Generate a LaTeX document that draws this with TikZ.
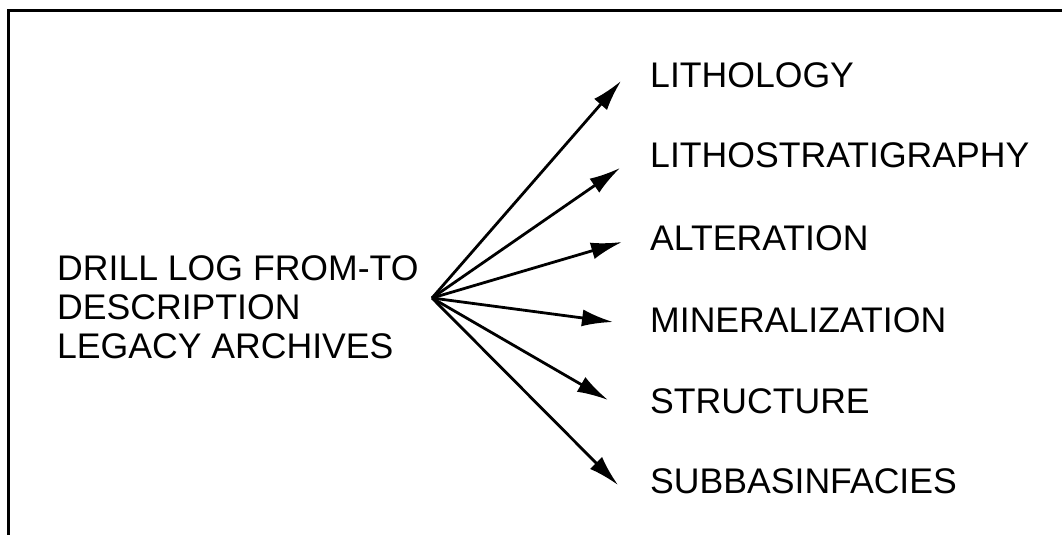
\documentclass[tikz,border=0pt]{standalone}
\usepackage{fontspec}
\setmainfont{Liberation Sans}
\usetikzlibrary{arrows.meta}

\tikzset{
  logtext/.style = {inner sep=0pt, font=\fontsize{35.6}{39}\selectfont},
  source/.style = {logtext, anchor=north west, align=left},% bloc de gauche
  attr/.style = {logtext, anchor=base west},% attributs a droite
  fan/.style = {line width=2.8pt, -{Latex[length=31pt,width=17pt]}},
  frame/.style = {line width=3pt}
}

\begin{document}
\begin{tikzpicture}[x=1pt, y=-1pt]
  \useasboundingbox (0,0) rectangle (1062,535);
  \draw [frame] (8,535) -- (8,11) -- (1062,11);

  \node [source] (log) at (57,255) {DRILL LOG FROM-TO\\DESCRIPTION\\LEGACY ARCHIVES};
  \coordinate (hub) at (432,298);

  \node [attr] (litho) at (650,87) {LITHOLOGY};
  \node [attr] (strat) at (650,167) {LITHOSTRATIGRAPHY};
  \node [attr] (alter) at (650,250) {ALTERATION};
  \node [attr] (miner) at (650,332) {MINERALIZATION};
  \node [attr] (struct) at (650,413) {STRUCTURE};
  \node [attr] (facies) at (650,493) {SUBBASINFACIES};

  % pointes des fleches
  \coordinate (t-litho) at (621,81);
  \coordinate (t-strat) at (620,168);
  \coordinate (t-alter) at (622,242);
  \coordinate (t-miner) at (613,322);
  \coordinate (t-struct) at (608,400);
  \coordinate (t-facies) at (618,485);

  \foreach \n in {litho, strat, alter, miner, struct, facies}
    \draw [fan] (hub) -- (t-\n);
\end{tikzpicture}
\end{document}
